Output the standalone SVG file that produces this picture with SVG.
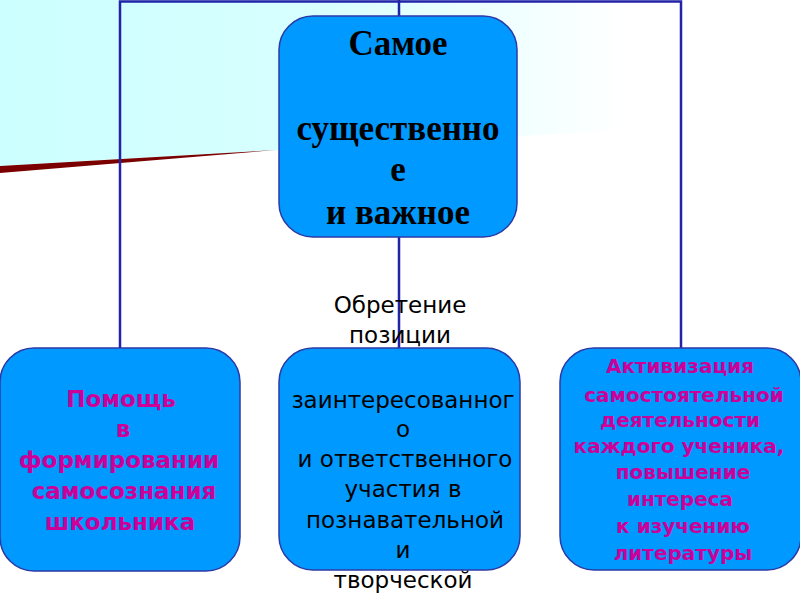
<svg xmlns="http://www.w3.org/2000/svg" width="800" height="600" viewBox="0 0 800 600">
  <defs>
    <linearGradient id="bg" x1="0" y1="0" x2="1" y2="0">
      <stop offset="0" stop-color="#ccffff"/>
      <stop offset="0.4" stop-color="#d8ffff"/>
      <stop offset="0.78" stop-color="#ffffff"/>
    </linearGradient>
    <style>
      .box { fill: #0099ff; stroke: #2b3aa6; stroke-width: 1.5; }
      .conn { stroke: #2323a8; stroke-width: 2.5; fill: none; }
      .title { font-family: "Liberation Serif", "Times New Roman", serif; font-weight: bold; font-size: 35px; fill: #000; text-anchor: middle; }
      .mag { font-family: "DejaVu Sans", Verdana, sans-serif; font-weight: bold; fill: #cc0099; text-anchor: middle; }
      .reg { font-family: "DejaVu Sans", Verdana, sans-serif; font-size: 23px; fill: #000; text-anchor: middle; }
    </style>
  </defs>
  <rect width="800" height="600" fill="#ffffff"/>
  <polygon points="0,0 800,0 800,120 0,166" fill="url(#bg)"/>
  <polygon points="0,166 276,150 0,173" fill="#7a0000"/>
  <g id="connectors">
    <polyline class="conn" points="120,349 120,1.5 681,1.5 681,349"/>
    <line class="conn" x1="399" y1="0" x2="399" y2="349"/>
  </g>
  <g id="node-top">
    <rect class="box" x="279" y="16" width="238" height="221" rx="34"/>
    <text class="title" x="398" y="55">Самое</text>
    <text class="title" x="398" y="140">существенно</text>
    <text class="title" x="398" y="181">е</text>
    <text class="title" x="398" y="224">и важное</text>
  </g>
  <g id="node-left">
    <rect class="box" x="0" y="348" width="240" height="223" rx="34"/>
    <g class="mag" font-size="23">
      <text x="121" y="407">Помощь</text>
      <text x="123" y="437">в</text>
      <text x="119" y="468">формировании</text>
      <text x="124" y="499">самосознания</text>
      <text x="120" y="530">школьника</text>
    </g>
  </g>
  <g id="node-middle">
    <rect class="box" x="279" y="348" width="241" height="222" rx="34"/>
    <text class="reg" x="400" y="313">Обретение</text>
    <text class="reg" x="400" y="343">позиции</text>
    <text class="reg" x="403" y="408">заинтересованног</text>
    <text class="reg" x="403" y="437">о</text>
    <text class="reg" x="405" y="467">и ответственного</text>
    <text class="reg" x="403" y="497">участия в</text>
    <text class="reg" x="405" y="528">познавательной</text>
    <text class="reg" x="403" y="558">и</text>
    <text class="reg" x="403" y="588">творческой</text>
  </g>
  <g id="node-right">
    <rect class="box" x="560" y="348" width="241" height="222" rx="34"/>
    <g class="mag" font-size="20">
      <text x="680" y="373">Активизация</text>
      <text x="684" y="402">самостоятельной</text>
      <text x="680" y="427">деятельности</text>
      <text x="679" y="453">каждого ученика,</text>
      <text x="683" y="479">повышение</text>
      <text x="680" y="506">интереса</text>
      <text x="683" y="533">к изучению</text>
      <text x="683" y="560">литературы</text>
    </g>
  </g>
</svg>
